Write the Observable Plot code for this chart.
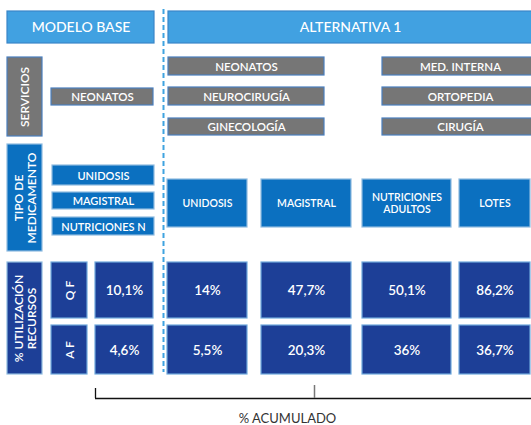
<!DOCTYPE html>
<html><head><meta charset="utf-8">
<script src="https://cdn.jsdelivr.net/npm/d3@7"></script>
<script src="https://cdn.jsdelivr.net/npm/@observablehq/plot@0.6"></script>
<style>body{margin:0;background:#fff}#c{width:531px;height:425px}</style>
</head><body><div id="c"></div>
<script>
const headers = ["MODELO BASE", "ALTERNATIVA 1"];
const rowLabels = ["SERVICIOS", "TIPO DE\nMEDICAMENTO", "% UTILIZACIÓN\nRECURSOS"];
const baseServicios = ["NEONATOS"];
const altServicios = ["NEONATOS", "NEUROCIRUGÍA", "GINECOLOGÍA", "MED. INTERNA", "ORTOPEDIA", "CIRUGÍA"];
const baseTipos = ["UNIDOSIS", "MAGISTRAL", "NUTRICIONES N"];
const altTipos = ["UNIDOSIS", "MAGISTRAL", "NUTRICIONES\nADULTOS", "LOTES"];
const recursos = ["Q F", "A F"];
const baseQF = ["10,1%"];
const baseAF = ["4,6%"];
const altQF = ["14%", "47,7%", "50,1%", "86,2%"];
const altAF = ["5,5%", "20,3%", "36%", "36,7%"];
const bracketLabel = "% ACUMULADO";

// colours
const cHead = "#41a1e1", cHeadS = "#3a86c8";
const cGrey = "#767676", cGreyS = "#4a7fbf";
const cMid = "#0b70c0", cMidS = "#8fbbe0";
const cDark = "#1d3f97", cDarkS = "#6fa8dc";

const boxes = [];
function box(x1, x2, y1, y2, label, fill, stroke, size, rotate = 0, weight = 600) {
  boxes.push({x1, x2, y1, y2, label, fill, stroke, size, rotate, weight});
}
// headers
box(7, 154, 11, 43, headers[0], cHead, cHeadS, 14, 0, 400);
box(168, 532, 11, 43, headers[1], cHead, cHeadS, 14, 0, 400);
// row labels
box(7, 42, 57, 136, rowLabels[0], cGrey, cGreyS, 12, -90);
box(7, 42, 144, 251, rowLabels[1], cMid, cMidS, 12, -90);
box(7, 42, 262, 374, rowLabels[2], cDark, cMidS, 12, -90);
// servicios
baseServicios.forEach(s => box(51, 153, 88, 105, s, cGrey, cGreyS, 11.5));
const servRows = [[57, 75], [87, 105], [118, 135]];
const servCols = [[168, 324], [382, 538]];
altServicios.forEach((s, i) => {
  const c = servCols[Math.floor(i / 3)], r = servRows[i % 3];
  box(c[0], c[1], r[0], r[1], s, cGrey, cGreyS, 11.5);
});
// tipos
const baseTipoRows = [[165, 185], [192, 209], [217, 235]];
baseTipos.forEach((t, i) => box(52, 154, baseTipoRows[i][0], baseTipoRows[i][1], t, cMid, cMidS, 11));
const altCols = [[167, 247], [261, 351], [362, 451], [459, 530]];
altTipos.forEach((t, i) => box(altCols[i][0], altCols[i][1], 179, 227, t, cMid, cMidS, 10.5));
// recursos
const recRows = [[262, 318], [325, 374]];
recursos.forEach((r, i) => box(51, 87, recRows[i][0], recRows[i][1], r, cDark, cDarkS, 12, -90));
box(95, 153, recRows[0][0], recRows[0][1], baseQF[0], cDark, cDarkS, 13.5);
box(95, 153, recRows[1][0], recRows[1][1], baseAF[0], cDark, cDarkS, 13.5);
altQF.forEach((v, i) => box(altCols[i][0], altCols[i][1], recRows[0][0], recRows[0][1], v, cDark, cDarkS, 13.5));
altAF.forEach((v, i) => box(altCols[i][0], altCols[i][1], recRows[1][0], recRows[1][1], v, cDark, cDarkS, 13.5));

const flatBold = boxes.filter(b => b.rotate === 0 && b.weight === 600);
const flatReg = boxes.filter(b => b.rotate === 0 && b.weight !== 600);
const rot = boxes.filter(b => b.rotate !== 0);

const cx = d => (d.x1 + d.x2) / 2, cy = d => (d.y1 + d.y2) / 2;
const chart = Plot.plot({
  width: 531, height: 425,
  margin: 0,
  x: {domain: [0, 531], range: [0, 531], axis: null},
  y: {domain: [0, 425], range: [0, 425], axis: null},
  color: {type: "identity"},
  style: {fontFamily: "Lato, 'Open Sans', sans-serif", background: "#fff"},
  marks: [
    Plot.ruleX([163], {y1: 9, y2: 372, stroke: "#3fa3e0", strokeWidth: 2, strokeDasharray: "5,3"}),
    Plot.rect(boxes, {x1: "x1", x2: "x2", y1: "y1", y2: "y2", fill: "fill", stroke: "stroke", strokeWidth: 1.2}),
    Plot.text(flatBold, {x: cx, y: cy, text: "label", fill: "white", fontSize: "size", lineHeight: 1.15, fontWeight: 600}),
    Plot.text(flatReg, {x: cx, y: cy, text: "label", fill: "white", fontSize: "size", fontWeight: 500}),
    Plot.text(rot, {x: cx, y: cy, text: "label", fill: "white", fontSize: "size", rotate: -90, lineHeight: 1.15, fontWeight: 600}),
    // bracket
    Plot.ruleY([398], {x1: 95, x2: 531, stroke: "#111", strokeWidth: 1.3}),
    Plot.ruleX([95], {y1: 388, y2: 398, stroke: "#111", strokeWidth: 1.3}),
    Plot.ruleX([314], {y1: 385, y2: 398, stroke: "#777", strokeWidth: 1.5}),
    Plot.text([bracketLabel], {x: 287, y: 418, text: d => d, fill: "#333", fontSize: 13})
  ]
});
document.getElementById("c").appendChild(chart);
</script></body></html>
